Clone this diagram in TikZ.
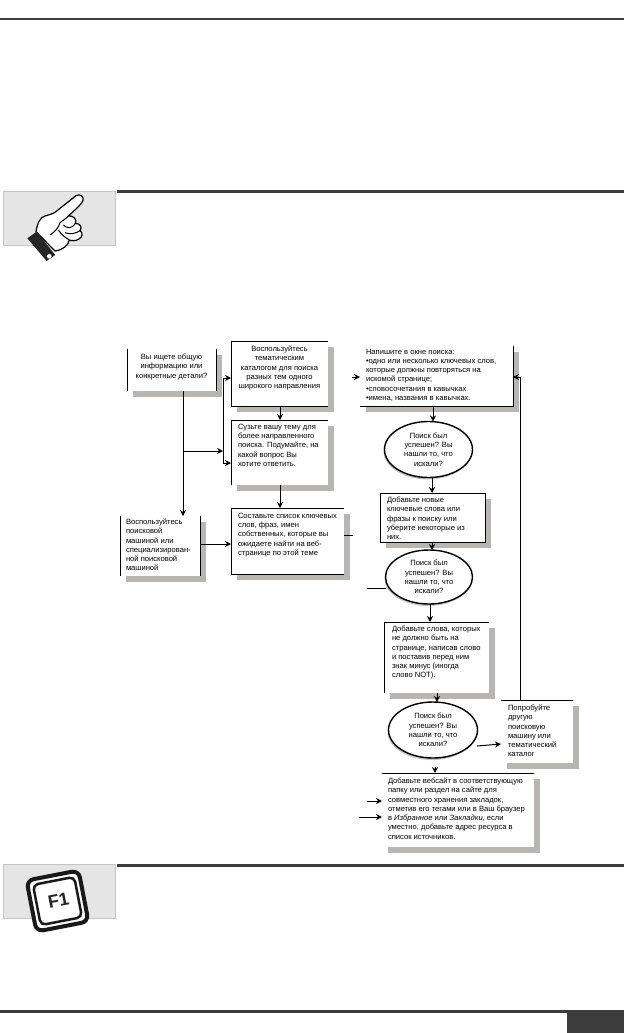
\documentclass[tikz,border=0pt]{standalone}
\usepackage{fontspec}
\setmainfont{Liberation Sans}
\usetikzlibrary{arrows.meta,shapes.geometric,calc}
\definecolor{rulec}{HTML}{3C3C3C}
\definecolor{shad}{HTML}{B9B5B0}
\definecolor{panel}{HTML}{E5E5E5}
\definecolor{panelb}{HTML}{C4C4C4}
\tikzset{
  ln/.style={line width=1pt,black},
  con/.style={line width=1pt,black,-{Stealth[length=6pt,width=6pt]}},
  plain/.style={line width=1pt,black},
  shadowfill/.style={fill=shad,draw=none},
  boxn/.style={fill=white,draw=none,inner sep=0pt,outer sep=0pt},
  txt/.style={inner sep=0pt,outer sep=0pt,font=\fontsize{7.6pt}{9.25pt}\selectfont,align=left,anchor=north west},
  txtc/.style={txt,align=center,anchor=north},
  ell/.style={ellipse,draw=black,line width=1.4pt,fill=white,inner sep=0pt,outer sep=0pt},
  ellsh/.style={ellipse,fill=shad!80,draw=none,inner sep=0pt,outer sep=0pt},
  panelbox/.style={fill=panel,draw=panelb,line width=.5pt},
  heavy/.style={rulec,line width=3pt},
}
% name, x1, y1, x2, y2 of the white face; shadow offset is fixed
\newcommand{\pbox}[5]{%
  \fill[shadowfill] (#2+5.5,#3+5.5) rectangle (#4+6,#5+6);
  \node[boxn,minimum width=#4pt-#2pt,minimum height=#5pt-#3pt] (#1) at ({(#2+#4)/2},{(#3+#5)/2}) {};
}
\begin{document}
\begin{tikzpicture}[x=1pt,y=-1pt]
\useasboundingbox (0,0) rectangle (624,1033);
\fill[white] (0,0) rectangle (624,1033);

% page furniture
\coordinate (tl) at (0,19); \coordinate (tr) at (624,19);
\draw[rulec,line width=2pt] (tl) -- (tr);
\coordinate (r1l) at (117,191.5); \coordinate (r1r) at (624,191.5);
\draw[heavy] (r1l) -- (r1r);
\coordinate (r2l) at (117,865); \coordinate (r2r) at (624,865);
\draw[heavy] (r2l) -- (r2r);
\coordinate (bl) at (0,1011.5); \coordinate (br) at (624,1011.5);
\draw[rulec,line width=2.5pt] (bl) -- (br);
\fill[rulec] (567,1011) rectangle (624,1033);

% panels
\draw[panelbox] (3,191) rectangle (115,245);
\draw[panelbox] (3,864) rectangle (115,918);

% pointing hand
\begin{scope}[shift={(0,180)},x=.3333pt,y=-.3333pt]
  \draw[fill=white,line width=1.2pt,line join=round]
    (108,155) .. controls (112,130) and (120,112) .. (135,108)
    .. controls (145,105) and (155,103) .. (165,97)
    -- (228,47) .. controls (240,40) and (253,50) .. (249,62)
    .. controls (245,72) and (225,90) .. (205,108)
    .. controls (220,106) and (232,118) .. (226,130)
    .. controls (240,130) and (248,142) .. (240,152)
    .. controls (250,158) and (248,172) .. (235,178)
    .. controls (228,183) and (215,183) .. (208,180)
    .. controls (205,195) and (190,210) .. (165,213)
    -- cycle;
  \draw[line width=1pt] (150,165) .. controls (165,155) and (175,145) .. (180,128)
    (180,128) .. controls (190,120) and (200,115) .. (205,108)
    (175,150) .. controls (185,165) and (195,172) .. (208,180)
    (190,135) .. controls (200,145) and (215,148) .. (226,130)
    (195,158) .. controls (210,165) and (228,160) .. (240,152);
  \fill[black!85] (82,175) -- (110,155) -- (166,225) -- (140,243) -- cycle;
  \fill[white] (148,229) circle (7);
\end{scope}

% F1 key
\node[rotate=11,rounded corners=7pt,draw=black!90,line width=4pt,fill=white,minimum width=53pt,minimum height=52pt,inner sep=0pt] (keyo) at (57.5,901) {};
\node[rotate=11,rounded corners=5pt,draw=black!90,line width=2.5pt,fill=white,minimum width=42pt,minimum height=41pt,inner sep=0pt] (keyi) at (57.5,901) {};
\node[rotate=11,inner sep=0pt,font=\fontsize{18pt}{18pt}\selectfont\bfseries,text=black!85] (keyt) at (58.5,900.5) {F1};

% flow boxes
\pbox{b1}{127}{349}{216}{391}
\node[txtc] (t1) at (b1.north) [yshift=-5pt] {Вы ищете общую\\информацию или\\конкретные детали?};
\pbox{b2}{231}{341}{328}{406}
\node[txtc] (t2) at (b2.north) [yshift=-5pt] {Воспользуйтесь\\тематическим\\каталогом для поиска\\разных тем одного\\широкого направления};
\pbox{b3}{231}{420}{328}{485}
\node[txt] (t3) at (238,424) {Сузьте вашу тему для\\более направленного\\поиска. Подумайте, на\\какой вопрос Вы\\хотите ответить.};
\pbox{b4}{231}{508}{344}{574}
\node[txt] (t4) at (238,513) {Составьте список ключевых\\слов, фраз, имен\\собственных, которые вы\\ожидаете найти на веб-\\странице по этой теме};
\pbox{b5}{120}{516}{200}{576}
\node[txt] (t5) at (126,519) {Воспользуйтесь\\поисковой\\машиной или\\специализирован-\\ной поисковой\\машиной};
\pbox{b6}{360}{346}{513}{406}
\node[txt] (t6) at (366,349) {Напишите в окне поиска:\\•одно или несколько ключевых слов,\\которые должны повторяться на\\искомой странице;\\•словосочетания в кавычках\\•имена, названия в кавычках.};
\pbox{b7}{380}{493}{485}{542}
\node[txt] (t7) at (387,497) {Добавьте новые\\ключевые слова или\\фразы к поиску или\\уберите некоторые из\\них.};
\pbox{b8}{384}{622}{489}{693}
\node[txt] (t8) at (392,626) {Добавьте слова, которых\\не должно быть на\\странице, написав слово\\и поставив перед ним\\знак минус (иногда\\слово NOT).};
\pbox{b9}{501}{700}{573}{763}
\node[txt] (t9) at (508,705) {Попробуйте\\другую\\поисковую\\машину или\\тематический\\каталог};
\pbox{b10}{382}{773}{534}{847}
\node[txt] (t10) at (388,778) {Добавьте вебсайт в соответствующую\\папку или раздел на сайте для\\совместного хранения закладок,\\отметив его тегами или в Ваш браузер\\в \textit{Избранное} или \textit{Закладки}, если\\уместно, добавьте адрес ресурса в\\список источников.};

% partial box outlines
\draw[ln] (b1.north west) -- (b1.south west) (b1.north east) -- (b1.south east);
\draw[ln] (b2.south east) -- (b2.south west) -- (b2.north west) -- (b2.north east);
\draw[ln] (b3.south west) -- (b3.north west) -- (b3.north east);
\draw[ln] (b4.south east) -- (b4.south west) -- (b4.north west) -- (b4.north east);
\draw[ln] (b5.north west) -- (b5.south west) (b5.north east) -- (b5.south east);
\draw[ln] (b6.south west) -- (b6.south east) -- (b6.north east);
\draw[ln] (b7.north west) rectangle (b7.south east);
\draw[ln] (b8.south west) -- (b8.north west) -- (b8.north east);
\draw[ln] (b9.north west) -- (b9.north east);
\draw[ln] (b10.north west) -- (b10.north east);

% ellipses
\node[ellsh,minimum width=88pt,minimum height=57pt] (e1s) at (427.5,451) {};
\node[ell,minimum width=88pt,minimum height=56pt] (e1) at (428.5,449.5) {};
\node[txtc,anchor=center] (te1) at (e1.center) {Поиск был\\успешен? Вы\\нашли то, что\\искали?};
\node[ellsh,minimum width=87pt,minimum height=55pt] (e2s) at (428,578.5) {};
\node[ell,minimum width=87pt,minimum height=54pt] (e2) at (429,577) {};
\node[txtc,anchor=center] (te2) at (e2.center) {Поиск был\\успешен? Вы\\нашли то, что\\искали?};
\node[ellsh,minimum width=89pt,minimum height=57pt] (e3s) at (432,731.5) {};
\node[ell,minimum width=89pt,minimum height=56pt] (e3) at (433,730) {};
\node[txtc,anchor=center] (te3) at (e3.center) {Поиск был\\успешен? Вы\\нашли то, что\\искали?};

% connectors
\coordinate (bus) at (223,451);
\coordinate (x1) at (183,391);
\coordinate (j1) at (x1 |- bus);
\draw[plain] (b1.south -| x1) -- (j1);
\draw[con] (j1) -- (b5.north -| j1);
\draw[con] (j1) -- (bus);
\coordinate (a2) at ($(b2.west)+(0,4.5)$);
\coordinate (a3) at ($(b3.west)+(0,10.5)$);
\draw[con] (a3 -| bus) -- (a3);
\draw[con] (bus |- a3) -- (bus |- a2) -- (a2);
\coordinate (x23) at (280,406);
\draw[con] (b2.south -| x23) -- (b3.north -| x23);
\draw[con] (b3.south -| x23) -- (b4.north -| x23);
\coordinate (y54) at (200,544);
\draw[con] (b5.east |- y54) -- (b4.west |- y54);
\coordinate (s4) at (353,535);
\draw[plain] (b4.east |- s4) -- (s4);
\coordinate (s6a) at (352,377);
\coordinate (s6b) at (360,377);
\draw[con] (s6a) -- (s6b);
\coordinate (s7) at (367,588);
\draw[plain] (s7) -- (s7 -| e2.west);
\coordinate (x6) at (433,406);
\draw[con] (b6.south -| x6) -- (x6 |- e1.north);
\coordinate (x7) at (432,480);
\draw[con] (x7 |- e1.south) -- (x7 |- b7.north);
\draw[con] (x7 |- b7.south) -- (x7 |- e2.north);
\coordinate (x8) at (430,604);
\draw[con] (x8 |- e2.south) -- (x8 |- b8.north);
\coordinate (x9) at (437,693);
\draw[con] (x9 |- b8.south) -- (x9 |- e3.north);
\coordinate (e3r) at (477,746);
\coordinate (b9l) at (501,744);
\draw[con] (e3r) -- (b9l);
\coordinate (x10) at (435,767);
\draw[con] (x10) -- (x10 |- b10.north);
\coordinate (ret) at (520,377);
\draw[plain] (ret |- b9.north) -- (ret);
\draw[con] (ret) -- (b6.east |- ret);
\coordinate (q1) at (367,801);
\coordinate (q2) at (359,817);
\draw[con] (q1) -- (b10.west |- q1);
\draw[con] (q2) -- (b10.west |- q2);
\end{tikzpicture}
\end{document}
